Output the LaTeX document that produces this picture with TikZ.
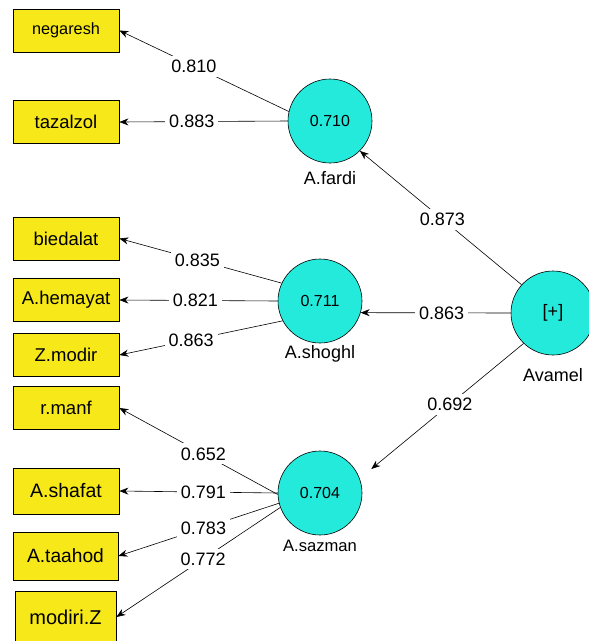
\documentclass[tikz,border=0pt]{standalone}
\usepackage{fontspec}
\setmainfont{Liberation Sans}
\usetikzlibrary{arrows.meta}
\definecolor{boxyellow}{RGB}{247,232,26}
\definecolor{lvcyan}{RGB}{36,234,220}
\begin{document}
\begin{tikzpicture}[x=1pt,y=-1pt,
  ind/.style={draw=black, fill=boxyellow, minimum width=106pt, minimum height=43pt, inner sep=0pt, line width=0.8pt, font=\fontsize{18.5}{20}\selectfont},
  lv/.style={circle, draw=black, fill=lvcyan, minimum size=84pt, inner sep=0pt, line width=0.6pt, font=\fontsize{16}{18}\selectfont},
  lvname/.style={inner sep=0pt, font=\fontsize{18}{20}\selectfont},
  load/.style={draw=black, line width=0.6pt, -{Stealth[length=9pt,width=7pt]}},
  coef/.style={fill=white, inner sep=4pt, font=\fontsize{18}{20}\selectfont}]
\useasboundingbox (0,0) rectangle (589,641);

% indicators
\node[ind, font=\fontsize{16.3}{18}\selectfont] (neg) at (66,30.5) {negaresh};
\node[ind] (taz) at (66,122) {tazalzol};
\node[ind] (bie) at (66,238.5) {biedalat};
\node[ind] (hem) at (66,300) {A.hemayat};
\node[ind] (zmo) at (66,355) {Z.modir};
\node[ind] (rma) at (66,408) {r.manf};
\node[ind, minimum height=46pt, font=\fontsize{19.5}{21}\selectfont] (sha) at (66,491) {A.shafat};
\node[ind, minimum width=105pt, minimum height=48pt, font=\fontsize{19.2}{21}\selectfont] (taa) at (65.5,556) {A.taahod};
\node[ind, minimum width=101pt, minimum height=52pt, font=\fontsize{20}{22}\selectfont] (mzz) at (65.5,617) {modiri.Z};

% latent variables
\node[lv] (fa) at (330,121) {0.710};
\node[lv] (sh) at (320,301) {0.711};
\node[lv] (sa) at (320,493) {0.704};
\node[lv, font=\fontsize{18}{20}\selectfont] (av) at (553,313) {[+]};

\node[lvname] (faname) at (330,178) {A.fardi};
\node[lvname] (shname) at (320,354) {A.shoghl};
\node[lvname, font=\fontsize{16.6}{18}\selectfont] (saname) at (320,546) {A.sazman};
\node[lvname] (avname) at (553,375) {Avamel};

% outer loadings
\draw[load] (fa.167) -- node[coef,pos=0.56]{0.810} (neg.east);
\draw[load] (fa.180) -- node[coef,pos=0.57]{0.883} (taz.east);
\draw[load] (sh.155) -- node[coef,pos=0.52]{0.835} (bie.east);
\draw[load] (sh.180) -- node[coef,pos=0.52]{0.821} (hem.east);
\draw[load] (sh.208) -- node[coef,pos=0.56]{0.863} (zmo.east);
\draw[load] (sa.182) -- node[coef,pos=0.47]{0.652} (rma.east);
\draw[load] (sa.180) -- node[coef,pos=0.47]{0.791} (sha.east);
\draw[load] (sa.194) -- node[coef,pos=0.47]{0.783} (taa.east);
\draw[load] (sa.200) -- node[coef,pos=0.47]{0.772} (mzz.east);

% path coefficients
\draw[load] (av.138) -- node[coef,pos=0.49]{0.873} (fa.-45);
\draw[load] (av.180) -- node[coef,pos=0.46]{0.863} (sh.-16);
\draw[load, shorten >=15pt] (av.226) -- node[coef,pos=0.45]{0.692} (sa.20);
\end{tikzpicture}
\end{document}
